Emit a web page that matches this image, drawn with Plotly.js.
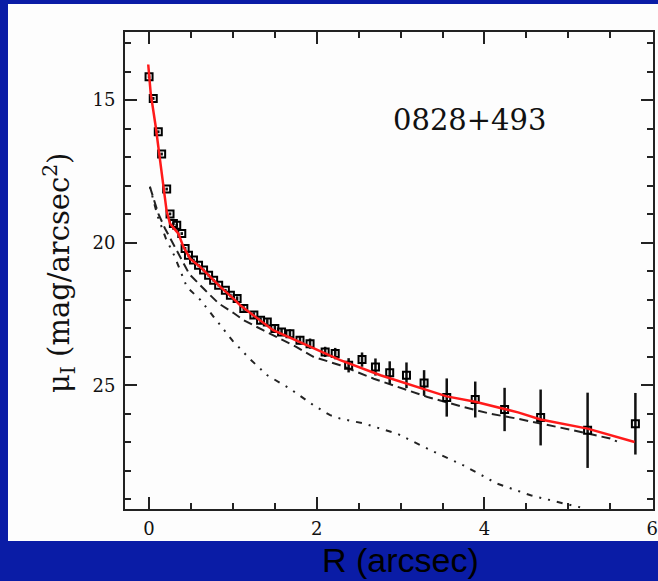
<!DOCTYPE html>
<html>
<head>
<meta charset="utf-8">
<script src="https://cdn.plot.ly/plotly-3.0.1.min.js"></script>
<style>
html,body{margin:0;padding:0;background:#0a1ca6;}
#chart{width:658px;height:581px;}
</style>
</head>
<body>
<div id="chart"></div>
<script>
// Observed profile (R in arcsec, mu_I in mag/arcsec^2)
var obsR   = [0.00, 0.05, 0.11, 0.15, 0.21, 0.25, 0.29, 0.33, 0.39, 0.43, 0.47, 0.53, 0.59, 0.65, 0.71, 0.77, 0.83, 0.91, 0.97, 1.05, 1.13, 1.25, 1.33, 1.41, 1.50, 1.58, 1.68, 1.80, 1.92, 2.10, 2.22, 2.38, 2.54, 2.70, 2.87, 3.07, 3.28, 3.55, 3.89, 4.24, 4.67, 5.23, 5.80];
var obsMu  = [14.18, 14.94, 16.11, 16.89, 18.12, 18.99, 19.33, 19.39, 19.68, 20.20, 20.44, 20.61, 20.79, 20.96, 21.14, 21.32, 21.49, 21.67, 21.84, 21.96, 22.31, 22.54, 22.72, 22.78, 23.01, 23.13, 23.19, 23.42, 23.54, 23.83, 23.89, 24.30, 24.10, 24.36, 24.56, 24.65, 24.92, 25.43, 25.50, 25.85, 26.13, 26.58, 26.35];
var obsErr = [0.05, 0.05, 0.05, 0.05, 0.05, 0.05, 0.05, 0.05, 0.05, 0.05, 0.05, 0.05, 0.05, 0.05, 0.05, 0.05, 0.05, 0.05, 0.05, 0.08, 0.08, 0.10, 0.10, 0.10, 0.12, 0.12, 0.15, 0.15, 0.18, 0.18, 0.20, 0.25, 0.25, 0.30, 0.40, 0.45, 0.45, 0.67, 0.63, 0.76, 0.98, 1.32, 1.08];

// Total model (red)
var fitR  = [-0.01, 0.02, 0.08, 0.13, 0.18, 0.21, 0.25, 0.30, 0.35, 0.41, 0.49, 0.61, 0.73, 0.85, 0.99, 1.09, 1.48, 1.88, 2.28, 2.76, 3.07, 3.28, 3.55, 3.89, 4.40, 4.67, 5.23, 5.79];
var fitMu = [13.75, 14.77, 15.94, 17.10, 18.27, 18.90, 19.33, 19.50, 19.68, 20.15, 20.56, 20.85, 21.20, 21.55, 21.92, 22.20, 23.07, 23.60, 24.12, 24.65, 24.94, 25.12, 25.39, 25.58, 25.95, 26.20, 26.52, 26.99];

// Host component (dashed)
var hostR  = [0.01, 0.07, 0.11, 0.19, 0.30, 0.48, 0.67, 0.83, 1.00, 1.13, 1.36, 1.76, 1.96, 2.28, 2.68, 3.04, 3.32, 3.75, 4.07, 4.39, 4.79, 5.06, 5.50, 5.58];
var hostMu = [18.04, 18.56, 18.98, 19.50, 20.10, 21.10, 21.67, 22.13, 22.45, 22.72, 23.07, 23.66, 24.00, 24.30, 24.77, 25.12, 25.41, 25.76, 26.00, 26.17, 26.40, 26.58, 26.87, 26.97];

// Second component (dotted)
var compR  = [0.01, 0.10, 0.20, 0.30, 0.45, 0.61, 0.77, 1.00, 1.21, 1.41, 1.68, 1.96, 2.16, 2.28, 2.56, 2.96, 3.36, 3.75, 4.15, 4.55, 4.95, 5.21];
var compMu = [18.04, 19.05, 19.85, 20.45, 21.55, 22.00, 22.60, 23.45, 24.10, 24.65, 25.12, 25.70, 26.05, 26.17, 26.34, 26.70, 27.28, 27.81, 28.45, 28.86, 29.15, 29.33];

var xTickVals = [0, 2, 4, 6];
var yTickVals = [15, 20, 25];
var label = "0828+493";

var traces = [
  {x: compR, y: compMu, mode: 'lines', line: {color: '#222', width: 2, dash: '2px,7px,2px,7px,6px,7px'}, hoverinfo: 'skip'},
  {x: hostR, y: hostMu, mode: 'lines', line: {color: '#222', width: 2, dash: '9px,5px'}, hoverinfo: 'skip'},
  {x: obsR, y: obsMu, mode: 'markers',
   marker: {symbol: 'square-open', size: 7, color: '#000', line: {width: 2, color: '#000'}},
   error_y: {type: 'data', array: obsErr, visible: true, color: '#111', thickness: 2.5, width: 0}},
  {x: fitR, y: fitMu, mode: 'lines', line: {color: '#ff1a1a', width: 2.5}}
];

var axisCommon = {
  showline: true, linecolor: '#222', linewidth: 2, mirror: 'allticks',
  ticks: 'inside', ticklen: 12, tickwidth: 2, tickcolor: '#222',
  showgrid: false, zeroline: false,
  tickfont: {family: 'DejaVu Serif', size: 18, color: '#111'}
};

var layout = {
  width: 658, height: 581,
  paper_bgcolor: '#0a1ca6',
  plot_bgcolor: '#fdfdfd',
  showlegend: false,
  margin: {l: 125, r: 5, t: 32, b: 72},
  xaxis: Object.assign({}, axisCommon, {
    range: [-0.287, 6.01], tickvals: xTickVals, ticktext: xTickVals.map(String),
    ticklabelstandoff: 2,
    minor: {dtick: 0.5, ticks: 'inside', ticklen: 6, tickwidth: 2, tickcolor: '#222', showgrid: false}
  }),
  yaxis: Object.assign({}, axisCommon, {
    range: [29.34, 12.61], tickvals: yTickVals, ticktext: yTickVals.map(String),
    ticklabelstandoff: 4,
    minor: {dtick: 1, ticks: 'inside', ticklen: 6, tickwidth: 2, tickcolor: '#222', showgrid: false}
  }),
  shapes: [
    {type: 'rect', xref: 'paper', yref: 'paper', x0: -0.2216, x1: 1.02, y0: -0.0671, y1: 1.0587,
     fillcolor: '#fdfdfd', line: {width: 0}, layer: 'below'}
  ],
  annotations: [
    {text: label, xref: 'paper', yref: 'paper', x: (469.5-125)/528, y: (509-119.5)/477,
     xanchor: 'center', yanchor: 'middle', showarrow: false,
     font: {family: 'DejaVu Serif', size: 29, color: '#111'}},
    {text: 'μ<sub>I</sub> (mag/arcsec<sup>2</sup>)', xref: 'paper', yref: 'paper',
     x: (59-125)/528, y: (509-273)/477, textangle: -90,
     xanchor: 'center', yanchor: 'middle', showarrow: false,
     font: {family: 'DejaVu Serif', size: 29, color: '#111'}},
    {text: 'R (arcsec)', xref: 'paper', yref: 'paper',
     x: (400-125)/528, y: (509-559.5)/477, borderpad: 0,
     xanchor: 'center', yanchor: 'middle', showarrow: false,
     font: {family: 'Liberation Sans', size: 34, color: '#000'}}
  ]
};

Plotly.newPlot('chart', traces, layout, {displayModeBar: false, staticPlot: true});
</script>
</body>
</html>
